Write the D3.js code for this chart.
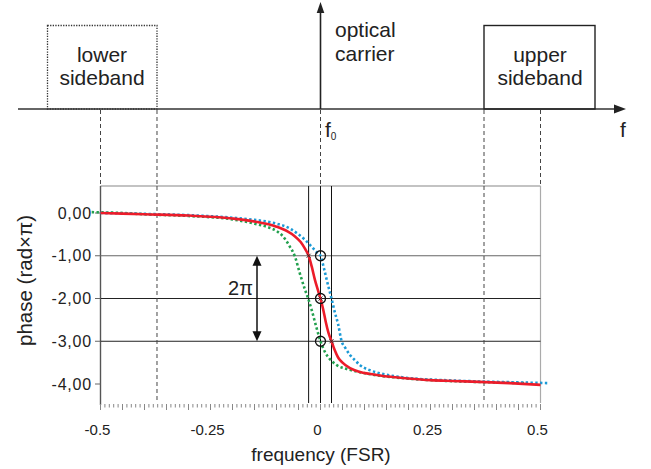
<!DOCTYPE html>
<html><head><meta charset="utf-8">
<script src="https://cdn.jsdelivr.net/npm/d3@7"></script>
<style>body{margin:0;background:#fff}svg{display:block}text{font-family:"Liberation Sans",Arial,sans-serif;fill:#222}</style>
</head><body><svg id="c" width="651" height="469"></svg>
<script>
// ---- data ----
const redX   = [-0.5,-0.4,-0.3,-0.2,-0.15,-0.1,-0.075,-0.06,-0.045,-0.035,-0.027,-0.02,-0.0125,-0.006,0,0.006,0.012,0.018,0.025,0.032,0.04,0.05,0.067,0.09,0.11,0.135,0.2,0.25,0.3,0.36,0.43,0.5];
const redY   = [0.00,-0.03,-0.06,-0.13,-0.2,-0.32,-0.43,-0.53,-0.68,-0.84,-1.0,-1.25,-1.57,-1.8,-2.0,-2.25,-2.55,-2.8,-3.0,-3.2,-3.38,-3.5,-3.63,-3.72,-3.76,-3.8,-3.87,-3.91,-3.93,-3.95,-3.98,-4.02];
const blueX  = [-0.5,-0.4,-0.3,-0.2,-0.15,-0.1,-0.07,-0.05,-0.035,-0.02,-0.01,0,0.008,0.015,0.025,0.032,0.04,0.048,0.056,0.067,0.08,0.09,0.11,0.135,0.17,0.21,0.28,0.36,0.44,0.52];
const blueY  = [0.00,-0.02,-0.05,-0.11,-0.16,-0.25,-0.36,-0.5,-0.63,-0.79,-0.9,-1.0,-1.3,-1.6,-2.0,-2.3,-2.6,-3.0,-3.15,-3.32,-3.46,-3.56,-3.67,-3.75,-3.82,-3.87,-3.91,-3.94,-3.96,-3.98];
const greenX = [-0.52,-0.45,-0.4,-0.3,-0.2,-0.15,-0.12,-0.1,-0.085,-0.07,-0.058,-0.047,-0.035,-0.028,-0.02,-0.01,0,0.01,0.02,0.037,0.06,0.097,0.13,0.173,0.25,0.35,0.47];
const greenY = [0.02,0.0,-0.03,-0.07,-0.15,-0.25,-0.33,-0.42,-0.55,-0.78,-1.02,-1.41,-1.8,-2.0,-2.27,-2.65,-3.0,-3.25,-3.4,-3.56,-3.65,-3.74,-3.8,-3.85,-3.91,-3.95,-3.98];
const yTicks = [0,-1,-2,-3,-4];
const yTickLabels = ["0,00","-1,00","-2,00","-3,00","-4,00"];
const xTicks = [-0.5,-0.25,0,0.25,0.5];
const xTickLabels = ["-0.5","-0.25","0","0.25","0.5"];
const gridY = [-1,-2,-3];
const markerX = [-0.027,0,0.025];   // red crossings
const markerY = [-1,-2,-3];
const circleX = [0,0,0];
const circleY = [-1,-2,-3];
const vLinesX = [-0.027,0,0.025];
const sideEdge = 0.3716;

(function(){
const svg = d3.select("#c");
const x = d3.scaleLinear().domain([-0.5,0.5]).range([100.5,540.5]);
const y = d3.scaleLinear().domain([0,-4]).range([213,384]);
const pTop=186, pBot=403, L=100.5, R=540.5;

// ---- top spectrum diagram ----
const axY=109;
const g0=svg.append("g");
g0.append("line").attr("x1",18).attr("x2",618).attr("y1",axY).attr("y2",axY).attr("stroke","#333").attr("stroke-width",1.6);
g0.append("path").attr("d",`M614,${axY-4.5}L626,${axY}L614,${axY+4.5}Z`).attr("fill","#222");
g0.append("line").attr("x1",x(0)).attr("x2",x(0)).attr("y1",axY).attr("y2",12).attr("stroke","#222").attr("stroke-width",1.6);
g0.append("path").attr("d",`M${x(0)-3.8},13L${x(0)},2L${x(0)+3.8},13Z`).attr("fill","#222");
g0.append("rect").attr("x",47.5).attr("y",25.5).attr("width",x(-sideEdge)-47.5).attr("height",axY-25.5)
  .attr("fill","none").attr("stroke","#333").attr("stroke-width",1.3).attr("stroke-dasharray","1.3,1.3");
g0.append("rect").attr("x",x(sideEdge)).attr("y",25.5).attr("width",595-x(sideEdge)).attr("height",axY-25.5)
  .attr("fill","none").attr("stroke","#222").attr("stroke-width",1.4);
const tf=21;
[["lower",102,62],["sideband",102,84.5],["upper",540,62],["sideband",540,84.5]].forEach(d=>{
  g0.append("text").attr("x",d[1]).attr("y",d[2]).attr("text-anchor","middle").attr("font-size",tf).text(d[0]);
});
g0.append("text").attr("x",335).attr("y",37).attr("font-size",tf).text("optical");
g0.append("text").attr("x",335).attr("y",61).attr("font-size",tf).text("carrier");
const f0=g0.append("text").attr("x",325).attr("y",137).attr("font-size",tf);
f0.append("tspan").text("f");
f0.append("tspan").attr("font-size",10).attr("dy",3).text("0");
g0.append("text").attr("x",620).attr("y",137).attr("font-size",tf).text("f");
[-0.5,-sideEdge,0,sideEdge,0.5].forEach(v=>{
  g0.append("line").attr("x1",x(v)).attr("x2",x(v)).attr("y1",axY+1).attr("y2",pTop)
    .attr("stroke","#444").attr("stroke-width",1).attr("stroke-dasharray","4,3");
});

// ---- bottom phase plot ----
const g=svg.append("g");
g.append("line").attr("x1",L).attr("x2",R).attr("y1",pTop).attr("y2",pTop).attr("stroke","#888").attr("stroke-width",1.2);
g.append("line").attr("x1",R).attr("x2",R).attr("y1",pTop).attr("y2",pBot).attr("stroke","#aaa").attr("stroke-width",1.2);
g.append("line").attr("x1",L).attr("x2",L).attr("y1",pTop).attr("y2",pBot+2).attr("stroke","#555").attr("stroke-width",1.4);
gridY.forEach((v,i)=>{
  g.append("line").attr("x1",L).attr("x2",R).attr("y1",y(v)).attr("y2",y(v)).attr("stroke",i==0?"#666":"#222").attr("stroke-width",1);
});
[-sideEdge,sideEdge].forEach(v=>{
  g.append("line").attr("x1",x(v)).attr("x2",x(v)).attr("y1",pTop).attr("y2",pBot)
    .attr("stroke","#444").attr("stroke-width",1).attr("stroke-dasharray","4,3");
});
vLinesX.forEach(v=>{
  g.append("line").attr("x1",x(v)).attr("x2",x(v)).attr("y1",pTop).attr("y2",pBot).attr("stroke","#111").attr("stroke-width",1);
});
yTicks.forEach((v,i)=>{
  g.append("line").attr("x1",95).attr("x2",L).attr("y1",y(v)).attr("y2",y(v)).attr("stroke","#666");
  g.append("text").attr("x",92).attr("y",y(v)+5.5).attr("text-anchor","end").attr("font-size",16).attr("letter-spacing",0.8).text(yTickLabels[i]);
});
d3.range(-50,51).forEach(k=>{
  const v=k/100, major=(k%5===0);
  g.append("line").attr("x1",x(v)).attr("x2",x(v)).attr("y1",pBot+1).attr("y2",pBot+(major?7:4.5))
    .attr("stroke","#888").attr("stroke-width",1);
});
xTicks.forEach((v,i)=>{
  g.append("text").attr("x",x(v)-3).attr("y",435).attr("text-anchor","middle").attr("font-size",15).text(xTickLabels[i]);
});
g.append("text").attr("x",321).attr("y",461).attr("text-anchor","middle").attr("font-size",19).text("frequency (FSR)");
g.append("text").attr("transform",`translate(32,${(pTop+pBot)/2-14}) rotate(-90)`).attr("text-anchor","middle").attr("font-size",20.5).text("phase (rad×π)");

const line=d3.line().x(d=>x(d[0])).y(d=>y(d[1])).curve(d3.curveMonotoneX);
g.append("path").datum(d3.zip(greenX,greenY)).attr("d",line).attr("fill","none").attr("stroke","#22a04e").attr("stroke-width",2.6).attr("stroke-dasharray","2.4,2.4");
g.append("path").datum(d3.zip(blueX,blueY)).attr("d",line).attr("fill","none").attr("stroke","#1b9ad6").attr("stroke-width",2.6).attr("stroke-dasharray","2.4,2.4");
g.append("path").datum(d3.zip(redX,redY)).attr("d",line).attr("fill","none").attr("stroke","#ec1c2a").attr("stroke-width",2.6);

markerX.forEach((v,i)=>{
  const cx=x(v), cy=y(markerY[i]), s=2;
  g.append("path").attr("d",`M${cx-s},${cy-s}L${cx+s},${cy+s}M${cx-s},${cy+s}L${cx+s},${cy-s}`).attr("stroke","#333").attr("stroke-width",1);
});
circleX.forEach((v,i)=>{
  g.append("circle").attr("cx",x(v)).attr("cy",y(circleY[i])).attr("r",5).attr("fill","none").attr("stroke","#111").attr("stroke-width",1.3);
});
const ax=257;
g.append("line").attr("x1",ax).attr("x2",ax).attr("y1",y(-1)+8).attr("y2",y(-3)-8).attr("stroke","#111").attr("stroke-width",1.5);
g.append("path").attr("d",`M${ax-4.5},${y(-1)+10}L${ax},${y(-1)}L${ax+4.5},${y(-1)+10}Z`).attr("fill","#111");
g.append("path").attr("d",`M${ax-4.5},${y(-3)-10}L${ax},${y(-3)}L${ax+4.5},${y(-3)-10}Z`).attr("fill","#111");
g.append("text").attr("x",253).attr("y",295).attr("text-anchor","end").attr("font-size",20).text("2π");
})();
</script></body></html>
